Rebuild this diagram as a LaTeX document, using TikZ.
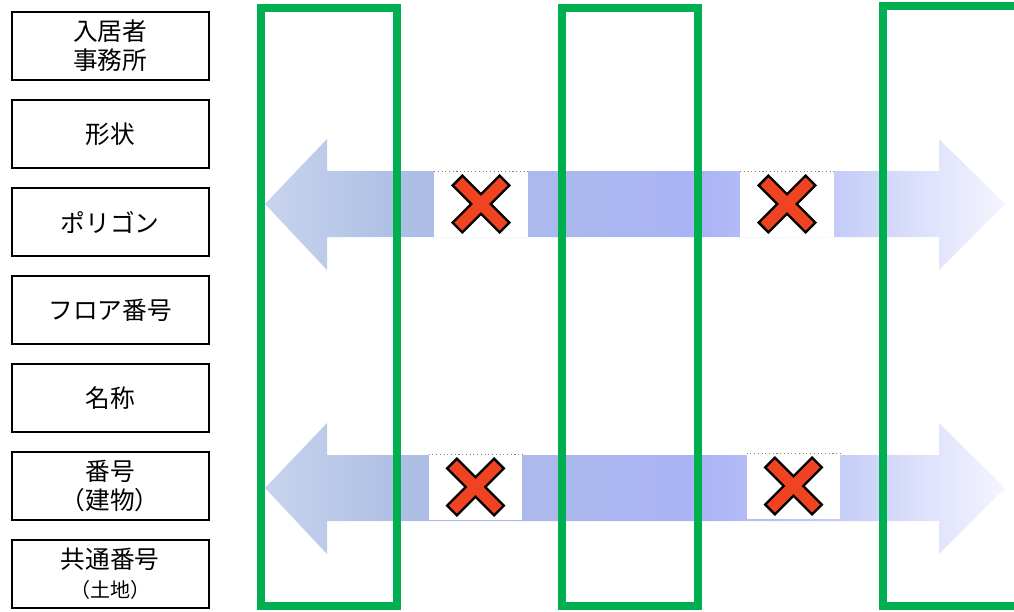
\documentclass[tikz,border=0pt]{standalone}
\usepackage{fontspec}
\setmainfont{Noto Sans CJK JP}
\usepackage{xcolor}
\definecolor{lanegreen}{HTML}{00B050}
\definecolor{crossred}{HTML}{F04322}
\definecolor{fadea}{HTML}{C8D4EE}
\definecolor{fadeb}{HTML}{ADBFE4}
\definecolor{fadec}{HTML}{A9B3F5}
\definecolor{faded}{HTML}{C6CDF8}
\definecolor{fadee}{HTML}{F4F5FE}
\pgfdeclarehorizontalshading{arrowfade}{100bp}{color(0bp)=(fadea); color(25bp)=(fadea);
  color(34bp)=(fadeb); color(54bp)=(fadec); color(64bp)=(faded); color(75bp)=(fadee);
  color(100bp)=(fadee)}

\tikzset{
  field/.style={draw, line width=1.5pt, minimum width=147.75pt, minimum height=50.6pt,
    align=center, inner sep=0pt, font=\fontsize{18.5}{21.75}\selectfont},
  nobox/.style={fill=white, minimum width=70pt, minimum height=49pt, inner sep=0pt},
  lane/.style={draw=lanegreen, line width=6pt},
  band/.style={shading=arrowfade},
  crossline/.style={line width=12pt, line cap=butt}
}

\begin{document}
\begin{tikzpicture}[x=0.75pt,y=-0.75pt]
  \clip (0,0) rectangle (1014,611);
  \foreach \y in {204,488}
    \path[band] (265,\y) -- ++(62,-65) -- ++(0,32) -- ++(612,0) -- ++(0,-32)
      -- ++(66,65) -- ++(-66,66) -- ++(0,-33) -- ++(-612,0) -- ++(0,33) -- cycle;

  \node (xa) [nobox] at (481,204) {};
  \node (xb) [nobox] at (787,204) {};
  \node (xc) [nobox] at (475.5,487) {};
  \node (xd) [nobox] at (793.5,486) {};
  \foreach \n in {xa,xb,xc,xd} {
    \draw[gray, dotted, line width=.8pt] (\n.north west) -- (\n.north east);
    \draw[crossline, black] (\n.center) +(-24.3,-24.3) -- +(24.3,24.3);
    \draw[crossline, black] (\n.center) +(-24.3,24.3) -- +(24.3,-24.3);
    \draw[crossline, crossred, line width=8.25pt] (\n.center) +(-22.5,-22.5) -- +(22.5,22.5);
    \draw[crossline, crossred, line width=8.25pt] (\n.center) +(-22.5,22.5) -- +(22.5,-22.5);
  }

  \draw[lane] (261,8) rectangle (397,606);
  \draw[lane] (562,8) rectangle (698,606);
  \draw[lane] (883,6) rectangle (1040,606);

  \path (110,46)
    node (occ) [field] {入居者\\事務所} ++(0,88)
    node (shp) [field] {形状} ++(0,88)
    node (pol) [field] {ポリゴン} ++(0,88)
    node (flr) [field] {フロア番号} ++(0,88)
    node (nam) [field] {名称} ++(0,88)
    node (bno) [field] {番号\\（建物）} ++(0,88)
    node (lno) [field] {共通番号\\{\fontsize{15}{18}\selectfont （土地）}}
    ;
\end{tikzpicture}
\end{document}
